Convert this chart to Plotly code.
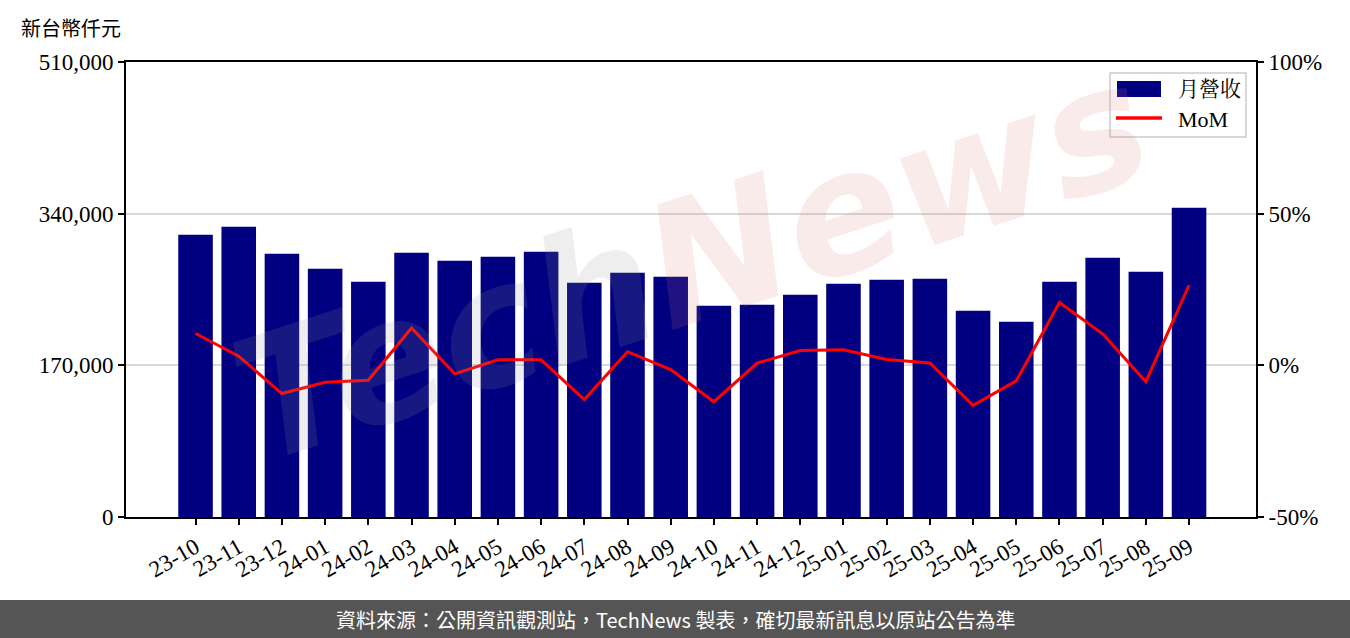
import plotly.graph_objects as go

months = ["23-10", "23-11", "23-12", "24-01", "24-02", "24-03", "24-04", "24-05",
          "24-06", "24-07", "24-08", "24-09", "24-10", "24-11", "24-12", "25-01",
          "25-02", "25-03", "25-04", "25-05", "25-06", "25-07", "25-08", "25-09"]
revenue = [316430, 325400, 295130, 278320, 263750, 296250, 287290, 291770,
           297370, 262630, 273840, 269350, 236850, 237970, 249180, 261510,
           265990, 267110, 231240, 218910, 263750, 290650, 274960, 346690]
mom = [0.105, 0.030, -0.093, -0.056, -0.049, 0.123, -0.028, 0.018,
       0.018, -0.113, 0.045, -0.014, -0.120, 0.007, 0.049, 0.051,
       0.019, 0.008, -0.132, -0.051, 0.207, 0.104, -0.054, 0.264]
left_ticks = [0, 170000, 340000, 510000]
left_labels = ["0", "170,000", "340,000", "510,000"]
right_ticks = [-0.5, 0, 0.5, 1.0]
right_labels = ["-50%", "0%", "50%", "100%"]
series_names = ["月營收", "MoM"]

SERIF = "Liberation Serif, Noto Serif CJK TC, Noto Sans CJK TC, serif"
CJK = "Noto Sans CJK TC, Noto Sans TC, sans-serif"
BAR_COLOR = "#000080"
LINE_COLOR = "#ff0000"

fig = go.Figure()
fig.add_trace(go.Bar(x=months, y=revenue, name=series_names[0], marker_color=BAR_COLOR,
                     marker_line_width=0, width=0.8, showlegend=False))
fig.add_trace(go.Scatter(x=months, y=mom, name=series_names[1], mode="lines",
                         line=dict(color=LINE_COLOR, width=3), yaxis="y2",
                         showlegend=False))

L, R, T, B = 126, 94, 62, 121
W, H = 1350, 638
pw, ph = W - L - R, H - T - B


def px_x(x):
    return (x - L) / pw


def px_y(y):
    return (H - B - y) / ph


tick_font = dict(family=SERIF, size=23, color="#000")
fig.update_layout(
    width=W, height=H, autosize=False,
    margin=dict(l=L, r=R, t=T, b=B, pad=0),
    plot_bgcolor="white", paper_bgcolor="white",
    showlegend=False,
    xaxis=dict(type="category", range=[-1.61, 24.55], showgrid=False,
               showline=True, linecolor="#000", linewidth=2, mirror=True,
               ticks="outside", ticklen=6, tickwidth=1.5, tickcolor="#000",
               tickangle=-30, tickfont=tick_font),
    yaxis=dict(range=[0, 510000], tickvals=left_ticks, ticktext=left_labels,
               showgrid=True, gridcolor="#d9d9d9", gridwidth=1.5, zeroline=False,
               showline=True, linecolor="#000", linewidth=2,
               ticks="outside", ticklen=6, tickwidth=1.5, tickcolor="#000",
               tickfont=tick_font),
    yaxis2=dict(range=[-0.5, 1.0], tickvals=right_ticks, ticktext=right_labels,
                overlaying="y", side="right", showgrid=False, zeroline=False,
                showline=True, linecolor="#000", linewidth=2,
                ticks="outside", ticklen=6, tickwidth=1.5, tickcolor="#000",
                tickfont=tick_font),
    bargap=0.2,
)

# watermark
fig.add_annotation(xref="paper", yref="paper", x=0.5, y=0.56, showarrow=False,
                   text="<span style='color:rgba(150,150,150,0.16)'>Tech</span>"
                        "<span style='color:rgba(220,120,120,0.15)'>News</span>",
                   textangle=-18,
                   font=dict(family="DejaVu Sans", size=170, weight="bold", style="italic"))

# custom legend (box, swatches, labels)
fig.add_shape(type="rect", xref="paper", yref="paper",
              x0=px_x(1110), x1=px_x(1246), y0=px_y(137), y1=px_y(73),
              fillcolor="rgba(255,255,255,0.85)", line=dict(color="#cccccc", width=1.5),
              layer="above")
fig.add_shape(type="rect", xref="paper", yref="paper",
              x0=px_x(1117), x1=px_x(1161), y0=px_y(97), y1=px_y(81),
              fillcolor=BAR_COLOR, line_width=0, layer="above")
fig.add_shape(type="line", xref="paper", yref="paper",
              x0=px_x(1116), x1=px_x(1162), y0=px_y(118), y1=px_y(118),
              line=dict(color=LINE_COLOR, width=3.5), layer="above")
fig.add_annotation(xref="paper", yref="paper", x=px_x(1176), y=px_y(89),
                   xanchor="left", yanchor="middle", showarrow=False,
                   text=series_names[0], font=dict(family=SERIF, size=21, color="#000"))
fig.add_annotation(xref="paper", yref="paper", x=px_x(1176), y=px_y(119),
                   xanchor="left", yanchor="middle", showarrow=False,
                   text=series_names[1], font=dict(family=SERIF, size=22, color="#000"))

# y-axis unit title
fig.add_annotation(xref="paper", yref="paper", x=px_x(19), y=px_y(27),
                   xanchor="left", yanchor="middle", showarrow=False,
                   text="新台幣仟元", font=dict(family=CJK, size=20, color="#000"))

# footer band
fig.add_shape(type="rect", xref="paper", yref="paper",
              x0=px_x(-2), x1=px_x(W + 2), y0=px_y(H + 2), y1=px_y(600),
              fillcolor="#555555", line_width=0, layer="above")
fig.add_annotation(xref="paper", yref="paper", x=px_x(675), y=px_y(619),
                   xanchor="center", yanchor="middle", showarrow=False,
                   text="資料來源：公開資訊觀測站，TechNews 製表，確切最新訊息以原站公告為準",
                   font=dict(family=CJK, size=20, color="#ffffff"))

fig.write_html("out.html", config={"displayModeBar": False},
               post_script="document.body.style.margin='0';document.body.style.overflow='hidden';")
